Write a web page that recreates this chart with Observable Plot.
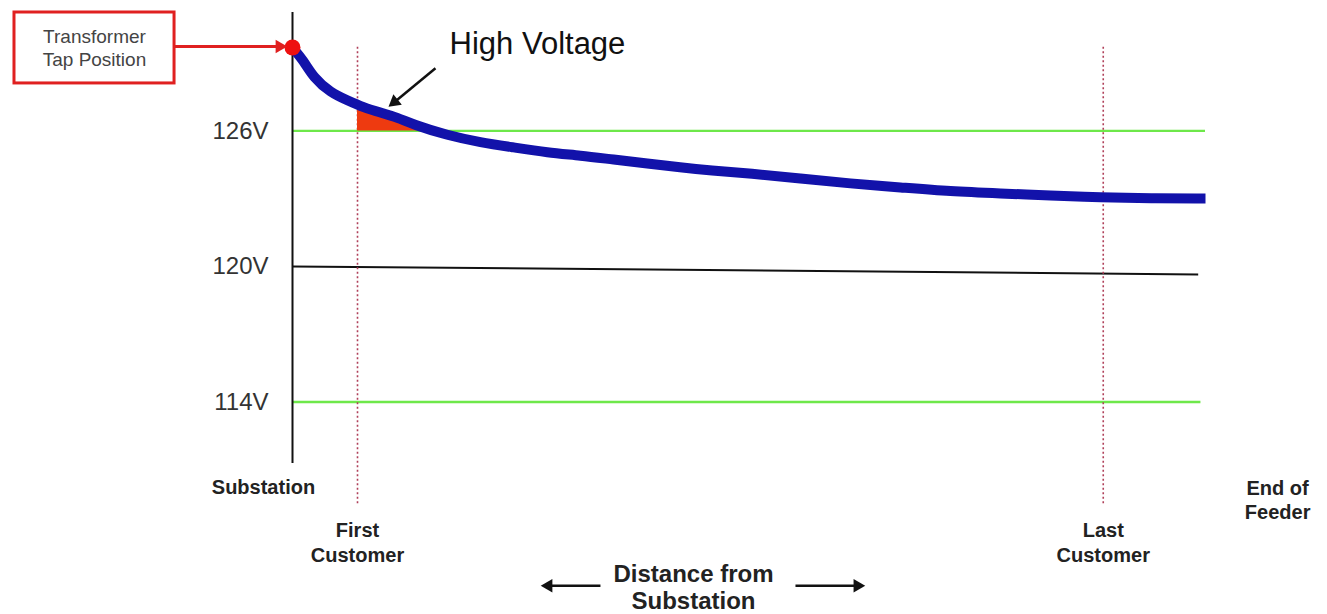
<!DOCTYPE html>
<html><head><meta charset="utf-8">
<script src="https://cdn.jsdelivr.net/npm/d3@7"></script>
<script src="https://cdn.jsdelivr.net/npm/@observablehq/plot@0.6"></script>
<style>
html,body{margin:0;padding:0;background:#fff;}
#chart svg{display:block;font-family:"Liberation Sans",Arial,sans-serif;}
</style></head>
<body><div id="chart"></div>
<script>
// Voltage profile along the feeder (distance in % of feeder length)
const distance = [0, 1.20, 2.30, 4.16, 6.02, 7.78, 9.64, 11.50, 13.25, 16.98, 20.59, 24.21, 27.93, 31.54, 35.16, 38.88, 42.50, 45.78, 50.16, 55.64, 61.12, 66.59, 72.07, 77.55, 83.02, 88.50, 93.98, 100];
const voltage  = [129.69, 129.12, 128.36, 127.70, 127.35, 127.04, 126.81, 126.59, 126.28, 125.80, 125.49, 125.27, 125.04, 124.91, 124.73, 124.56, 124.38, 124.25, 124.12, 123.89, 123.67, 123.50, 123.32, 123.23, 123.14, 123.05, 123.01, 123.01];
// High-voltage region (above 126V) after first customer
const hvDistance = [7.12, 7.78, 9.64, 11.50, 13.25, 14.9];
const hvVoltage  = [127.10, 127.04, 126.81, 126.59, 126.28, 126.0];
// Limits
const upperLimit = 126, nominal = 120, lowerLimit = 114;
const nominalEnd = 119.65;
const yTicks = [114, 120, 126];
// Customers
const customerNames = ["First\nCustomer", "Last\nCustomer"];
const customerDistance = [7.12, 88.8];
const tapVoltage = 129.69;

const profile = distance.map((d, i) => ({x: d, v: voltage[i]}));
const hv = hvDistance.map((d, i) => ({x: d, v: hvVoltage[i]}));
const customers = customerNames.map((n, i) => ({name: n, x: customerDistance[i]}));

const font = "Liberation Sans, Arial, sans-serif";
const head = (x, y, rotate, fill) => Plot.dot([{}], {x: () => x, y: () => y, symbol: "triangle", r: 5, rotate, fill, stroke: "none"});
const chart = Plot.plot({
  width: 1327, height: 614,
  marginLeft: 292, marginRight: 122, marginTop: 12, marginBottom: 151,
  x: {domain: [0, 100], axis: null},
  y: {domain: [111.28, 131.24], axis: null},
  style: {fontFamily: font, background: "#fff"},
  marks: [
    Plot.axisY({ticks: yTicks, tickFormat: d => d + "V", tickSize: 0, tickPadding: 24, fontSize: 24, fill: "#333", anchor: "left"}),
    // limit lines
    Plot.ruleY([upperLimit], {x1: 0, x2: 100, stroke: "#6ee84a", strokeWidth: 2.4}),
    Plot.ruleY([lowerLimit], {x1: 0, x2: 99.5, stroke: "#6ee84a", strokeWidth: 2.4}),
    Plot.link([{a: nominal, b: nominalEnd}], {x1: 0, x2: 99.2, y1: "a", y2: "b", stroke: "#111", strokeWidth: 2}),
    // customers
    Plot.ruleX(customers, {x: "x", y1: 109.5, y2: 129.78, stroke: "#b0405a", strokeWidth: 1.6, strokeDasharray: "2,2.5"}),
    Plot.text(customers, {x: "x", y: 107.83, text: "name", fontSize: 20, fontWeight: "bold", fill: "#222", lineHeight: 1.25}),
    // vertical axis line
    Plot.ruleX([0], {y1: 111.28, y2: 131.24, stroke: "#111", strokeWidth: 2}),
    // high voltage area
    Plot.areaY(hv, {x: "x", y1: upperLimit, y2: "v", fill: "#ee3a10", curve: "basis"}),
    // voltage profile
    Plot.line(profile, {x: "x", y: "v", stroke: "#1212aa", strokeWidth: 10, curve: "basis", strokeLinecap: "butt"}),
    Plot.dot([{x: 0, v: tapVoltage}], {x: "x", y: "v", r: 8, fill: "#ee1111"}),
    // transformer annotation
    Plot.rect([{x1: -30.45, x2: -12.92, y1: 128.1, y2: 131.24}], {x1: "x1", x2: "x2", y1: "y1", y2: "y2", fill: "#fff", stroke: "#e02020", strokeWidth: 3}),
    Plot.text(["Transformer\nTap Position"], {x: -21.69, y: 129.72, fontSize: 19, fill: "#444", lineHeight: 1.2}),
    Plot.link([{}], {x1: -12.92, x2: -1.42, y1: 129.74, y2: 129.74, stroke: "#e02020", strokeWidth: 3}),
    head(-1.42, 129.74, 90, "#e02020"),
    // high voltage label
    Plot.text(["High Voltage"], {x: 26.83, y: 129.85, fontSize: 31, fill: "#111"}),
    Plot.link([{}], {x1: 15.66, y1: 128.77, x2: 11.18, y2: 127.28, stroke: "#111", strokeWidth: 2.5}),
    head(11.18, 127.28, -129, "#111"),
    // position labels
    Plot.text(["Substation"], {x: -3.18, y: 110.22, fontSize: 20, fontWeight: "bold", fill: "#222"}),
    Plot.text(["End of\nFeeder"], {x: 107.9, y: 109.68, fontSize: 20, fontWeight: "bold", fill: "#222", lineHeight: 1.2}),
    Plot.text(["Distance from\nSubstation"], {x: 43.92, y: 105.83, fontSize: 24, fontWeight: "bold", fill: "#222", lineHeight: 1.15}),
    Plot.link([{}], {x1: 33.73, x2: 28.04, y1: 105.87, y2: 105.87, stroke: "#111", strokeWidth: 2.5}),
    head(28.04, 105.87, -90, "#111"),
    Plot.link([{}], {x1: 55.09, x2: 61.88, y1: 105.87, y2: 105.87, stroke: "#111", strokeWidth: 2.5}),
    head(61.88, 105.87, 90, "#111")
  ]
});
document.getElementById("chart").appendChild(chart);
</script></body></html>
